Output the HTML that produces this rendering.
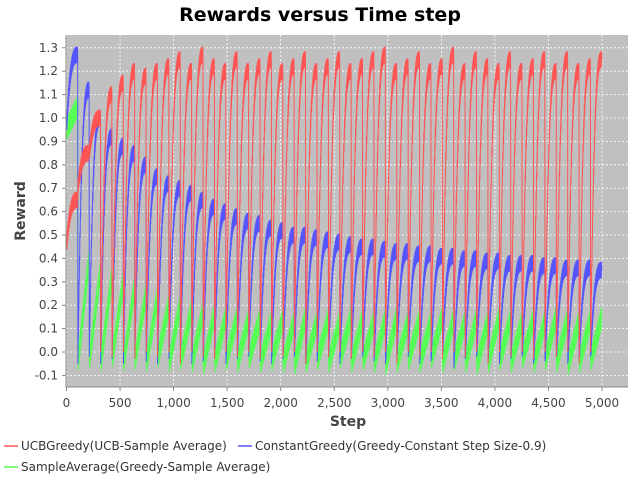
<!DOCTYPE html>
<html><head><meta charset="utf-8"><style>
body{margin:0;background:#fff;font-family:"DejaVu Sans","Liberation Sans",sans-serif}
svg text{font-family:"DejaVu Sans","Liberation Sans",sans-serif}
</style></head><body>
<svg id="c" width="640" height="480" xmlns="http://www.w3.org/2000/svg">
<text x="320" y="21" text-anchor="middle" font-size="19" font-weight="bold">Rewards versus Time step</text>
<rect x="66" y="35" width="562" height="352" fill="#c0c0c0"/>
<g id="grid"></g><g id="series"></g><g id="axes"></g>
<text x="348" y="426" text-anchor="middle" font-size="14" font-weight="bold" fill="#444">Step</text>
<text transform="translate(25,211) rotate(-90)" text-anchor="middle" font-size="14" font-weight="bold" fill="#444">Reward</text>
<g font-size="12" fill="#333">
<g><line x1="4" y1="446" x2="18" y2="446" stroke="#ff5555" stroke-width="1.5"/><text x="21" y="450">UCBGreedy(UCB-Sample Average)</text></g>
<g><line x1="238" y1="446" x2="252" y2="446" stroke="#5555ff" stroke-width="1.5"/><text x="255" y="450">ConstantGreedy(Greedy-Constant Step Size-0.9)</text></g>
<g><line x1="4" y1="467" x2="18" y2="467" stroke="#55ff55" stroke-width="1.5"/><text x="21" y="471">SampleAverage(Greedy-Sample Average)</text></g>
</g>
</svg>
<script>
const xTicks=[0,500,1000,1500,2000,2500,3000,3500,4000,4500,5000];
const yTicks=[-0.1,0,0.1,0.2,0.3,0.4,0.5,0.6,0.7,0.8,0.9,1.0,1.1,1.2,1.3];
const totalSteps=5000;
const redPeaks=[0.65,0.85,1.0,1.1,1.15,1.2,1.18,1.2,1.22,1.25,1.2,1.27,1.22,1.2,1.25,1.2,1.22,1.25,1.2,1.22,1.25,1.2,1.22,1.25,1.2,1.22,1.25,1.27,1.2,1.22,1.25,1.2,1.22,1.27,1.2,1.25,1.22,1.2,1.25,1.2,1.22,1.25,1.2,1.25,1.2,1.22,1.25];
const redMins=[0.45,0.7,0.85,0,-0.02,0,-0.03,0,-0.02,0,-0.05,0,-0.02,-0.03,0,-0.02,0,-0.03,0,-0.02,0,-0.05,0,-0.02,0,-0.03,0,-0.02,0,-0.05,0,-0.02,0,-0.03,0,-0.02,0,-0.05,0,-0.02,0,-0.03,0,-0.02,0,-0.05,0];
const bluePeaks=[1.27,1.12,1.0,0.92,0.88,0.85,0.8,0.75,0.72,0.7,0.68,0.65,0.62,0.6,0.58,0.56,0.55,0.53,0.52,0.5,0.5,0.49,0.48,0.47,0.46,0.45,0.45,0.44,0.43,0.43,0.42,0.42,0.41,0.41,0.40,0.40,0.39,0.39,0.38,0.38,0.38,0.37,0.37,0.36,0.36,0.36,0.35];
const blueMins=[0.95,-0.05,-0.02,-0.05,-0.03,-0.05,-0.02,-0.04,-0.05,-0.03,-0.02,-0.05,-0.04,-0.02,-0.05,-0.03,-0.02,-0.04,-0.05,-0.03,-0.02,-0.05,-0.04,-0.02,-0.05,-0.03,-0.02,-0.04,-0.05,-0.03,-0.02,-0.05,-0.04,-0.02,-0.07,-0.03,-0.02,-0.04,-0.05,-0.03,-0.02,-0.05,-0.04,-0.02,-0.05,-0.03,-0.02];
const greenPeaks=[1.05,0.4,0.35,0.32,0.3,0.28,0.25,0.23,0.2,0.2,0.18,0.17,0.16,0.15,0.15,0.14,0.14,0.13,0.14,0.13,0.15,0.13,0.14,0.13,0.15,0.14,0.13,0.14,0.15,0.13,0.14,0.13,0.15,0.14,0.13,0.14,0.13,0.15,0.14,0.13,0.14,0.13,0.15,0.14,0.13,0.14,0.15];
const greenMins=[0.95,-0.05,-0.04,-0.05,-0.03,-0.05,-0.04,-0.05,-0.03,-0.05,-0.04,-0.05,-0.06,-0.05,-0.04,-0.05,-0.03,-0.05,-0.04,-0.05,-0.06,-0.05,-0.04,-0.05,-0.03,-0.05,-0.04,-0.05,-0.06,-0.05,-0.04,-0.05,-0.03,-0.05,-0.04,-0.05,-0.06,-0.05,-0.04,-0.05,-0.03,-0.05,-0.04,-0.05,-0.06,-0.05,-0.04];
const NS="http://www.w3.org/2000/svg";
const X=s=>66.5+s*(602-66.5)/5000;
const Y=v=>352-v*234;
function mk(t,a,p){const e=document.createElementNS(NS,t);for(const k in a)e.setAttribute(k,a[k]);p.appendChild(e);return e;}
const grid=document.getElementById('grid'),axes=document.getElementById('axes'),ser=document.getElementById('series');
xTicks.forEach(s=>{
 const l=mk('line',{x1:X(s),x2:X(s),y1:35,y2:387,stroke:'#fff','stroke-dasharray':'2,2','stroke-width':0.8},grid);
 
 
 mk('line',{x1:X(s),x2:X(s),y1:387,y2:391,stroke:'#888'},axes);
 const t=mk('text',{x:X(s),y:407,'text-anchor':'middle','font-size':12,fill:'#444'},axes);
 t.textContent=s.toLocaleString('en-US');
 
 
});
yTicks.forEach(v=>{
 const l=mk('line',{x1:66,x2:628,y1:Y(v),y2:Y(v),stroke:'#fff','stroke-dasharray':'2,2','stroke-width':0.8},grid);
 
 
 mk('line',{x1:62,x2:66,y1:Y(v),y2:Y(v),stroke:'#888'},axes);
 const t=mk('text',{x:58,y:Y(v)+4,'text-anchor':'end','font-size':12,fill:'#444'},axes);
 t.textContent=v.toFixed(1);
 
 
});
mk('line',{x1:66,x2:66,y1:35,y2:387,stroke:'#888'},axes);
mk('line',{x1:66,x2:628,y1:387,y2:387,stroke:'#888'},axes);
function draw(peaks,mins,color,amp,curve,name){
 const n=peaks.length,len=totalSteps/n,pts=[];
 const per=50;
 for(let c=0;c<n;c++){
  for(let i=0;i<=per;i++){
   const t=i/per,f=curve?1-Math.pow(1-t,3):t;
   let v=mins[c]+(peaks[c]-mins[c])*f+((i%2)?amp:-amp)*(i>0&&i<per?1:0);
   pts.push(X(c*len+t*len*0.98).toFixed(1)+','+Y(v).toFixed(1));
  }
 }
 const p=mk('polyline',{points:pts.join(' '),fill:'none',stroke:color,'stroke-width':1},ser);
 
 
}
draw(greenPeaks,greenMins,'#55ff55',0.045,false,'series-sample-average');
draw(bluePeaks,blueMins,'#5555ff',0.035,true,'series-constant-greedy');
draw(redPeaks,redMins,'#ff5555',0.035,true,'series-ucb-greedy');
</script>
</body></html>
